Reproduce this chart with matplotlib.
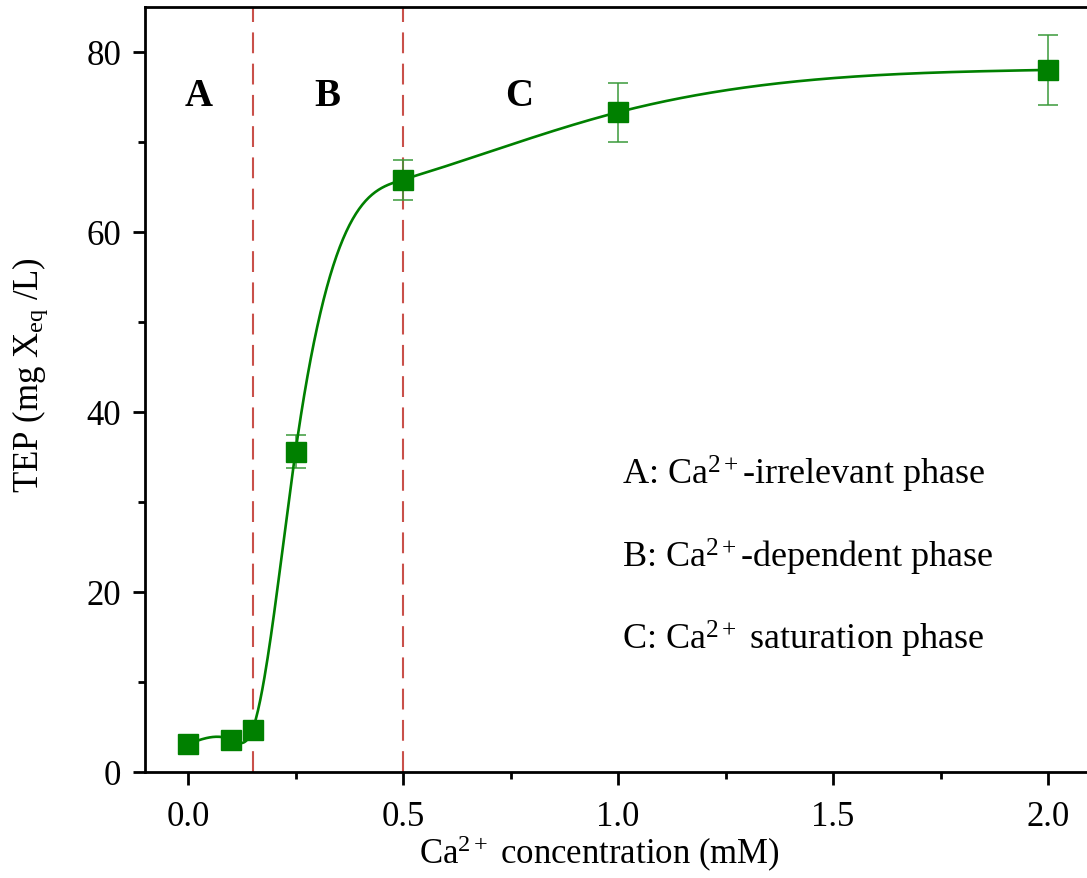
import numpy as np
import matplotlib
matplotlib.use("Agg")
import matplotlib.pyplot as plt
from matplotlib.ticker import MultipleLocator

# data
ca_conc = [0.0, 0.1, 0.15, 0.25, 0.5, 1.0, 2.0]
tep = [3.1, 3.6, 4.7, 35.6, 65.8, 73.3, 78.0]
tep_err = [0.5, 0.5, 0.6, 1.8, 2.2, 3.3, 3.9]
phase_bounds = [0.15, 0.5]
phase_letters = ["A", "B", "C"]
phase_letter_x = [0.025, 0.325, 0.77]
legend_lines = [r"A: Ca$^{2+}$-irrelevant phase",
                r"B: Ca$^{2+}$-dependent phase",
                r"C: Ca$^{2+}$ saturation phase"]


def natural_spline(x, y, xs):
    # plain cubic spline for the connecting line (like Origin's "Spline" connect)
    x = np.asarray(x, float)
    y = np.asarray(y, float)
    n = len(x)
    h = np.diff(x)
    A = np.zeros((n, n))
    b = np.zeros(n)
    A[0, 0] = A[-1, -1] = 1
    for i in range(1, n - 1):
        A[i, i - 1] = h[i - 1]
        A[i, i] = 2 * (h[i - 1] + h[i])
        A[i, i + 1] = h[i]
        b[i] = 6 * ((y[i + 1] - y[i]) / h[i] - (y[i] - y[i - 1]) / h[i - 1])
    M = np.linalg.solve(A, b)
    idx = np.clip(np.searchsorted(x, xs) - 1, 0, n - 2)
    x0, x1 = x[idx], x[idx + 1]
    hh = h[idx]
    a = (x1 - xs) / hh
    c = (xs - x0) / hh
    return (a * y[idx] + c * y[idx + 1]
            + ((a**3 - a) * M[idx] + (c**3 - c) * M[idx + 1]) * hh**2 / 6)


plt.rcParams["font.family"] = ["Liberation Serif", "DejaVu Serif"]
plt.rcParams["mathtext.fontset"] = "custom"
plt.rcParams["mathtext.rm"] = "Liberation Serif"
plt.rcParams["mathtext.it"] = "Liberation Serif:italic"

fig = plt.figure(figsize=(10.87, 8.79), dpi=100)
ax = fig.add_axes([0.1334, 0.1206, 0.8703, 0.8704])

green = "#008000"
xs = np.linspace(ca_conc[0], ca_conc[-1], 800)
ax.plot(xs, natural_spline(ca_conc, tep, xs), color=green, lw=1.9, zorder=3)
ax.errorbar(ca_conc, tep, yerr=tep_err, fmt="none", ecolor="#3a9a3a",
            elinewidth=1.1, capsize=7, capthick=1.1, zorder=2)
ax.plot(ca_conc, tep, "s", color=green, markersize=15, zorder=4)

for xb in phase_bounds:
    ax.axvline(xb, color="#c9504a", lw=1.5, dashes=(10, 5), zorder=1)

for lx, letter in zip(phase_letter_x, phase_letters):
    ax.text(lx, 75.2, letter, fontsize=28, fontweight="bold", ha="center", va="center")

for i, s in enumerate(legend_lines):
    ax.text(1.01, 33.2 - 9.2 * i, s, fontsize=26, ha="left", va="center")

ax.set_xlim(-0.1, 2.1)
ax.set_ylim(0, 85)
ax.xaxis.set_minor_locator(MultipleLocator(0.25))
ax.yaxis.set_major_locator(MultipleLocator(20))
ax.yaxis.set_minor_locator(MultipleLocator(10))
ax.set_xticks([0.0, 0.5, 1.0, 1.5, 2.0])
ax.set_xticklabels(["0.0", "0.5", "1.0", "1.5", "2.0"])
ax.tick_params(which="major", direction="out", length=9, width=2, labelsize=25, pad=8)
ax.tick_params(axis="x", which="major", pad=11)
ax.tick_params(which="minor", direction="out", length=5, width=2)
for sp in ax.spines.values():
    sp.set_linewidth(2)

ax.set_xlabel(r"Ca$^{2+}$ concentration (mM)", fontsize=25, labelpad=0, x=0.48)
ax.set_ylabel(r"TEP (mg X$_{\mathrm{eq}}$ /L)", fontsize=25, labelpad=26, y=0.52)

fig.savefig("out.png", dpi=100)
